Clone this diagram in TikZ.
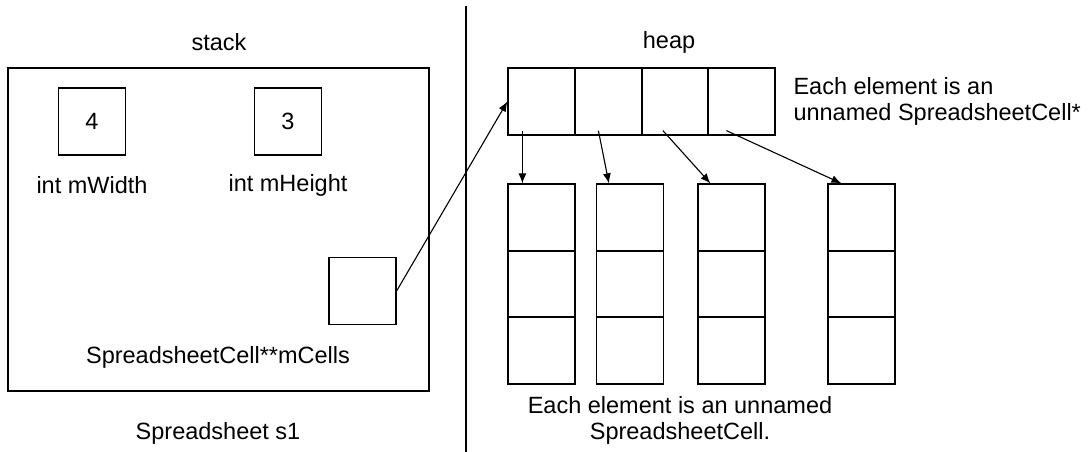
\documentclass[tikz,border=0pt]{standalone}
\usepackage{fontspec}
\setmainfont{Liberation Sans}
\usetikzlibrary{arrows.meta,calc}

\tikzset{
  cell/.style={draw,line width=1.2pt,minimum width=67pt,minimum height=67pt,inner sep=0pt},
  ptr/.style={-{Latex[length=10pt,width=8pt]},line width=1.1pt},
}

\begin{document}
\begin{tikzpicture}[x=1pt,y=-1pt,font=\fontsize{23.5}{26}\selectfont]
    \useasboundingbox (0,0) rectangle (1092,452);

    % stack side
    \path (219,42) node (stacklbl) {stack};
    \path (218.5,229.5) node [draw,line width=1.2pt,minimum width=421pt,minimum height=323pt,inner sep=0pt] (stack) {};
    \path (92,121.5)  node [cell] (w) {4};
    \path (288,121.5) node [cell] (h) {3};
    \path (92,185)  node (wlbl) {int mWidth};
    \path (288,185) node (hlbl) {int mHeight};
    \path (362.5,291) node [cell] (cells) {};
    \path (218,357) node (cellslbl) {SpreadsheetCell**mCells};
    \path (218,433) node (s1lbl) {Spreadsheet s1};

    \draw [line width=1.2pt] (466,6) -- (466,452);

    % heap side
    \path (669,42) node (heaplbl) {heap};
    \path (541.5,101.5) node [cell] (a1) {};
    \path (608.5,101.5) node [cell] (a2) {};
    \path (675,101.5)   node [cell] (a3) {};
    \path (741.5,101.5) node [cell] (a4) {};
    \path (790,101) node [anchor=west,align=left] (arrlbl)
     {Each element is an\\unnamed SpreadsheetCell*};

    \path (541.5,217.5) node [cell] (c11) {};
    \path (541.5,284)   node [cell] (c12) {};
    \path (541.5,350.5) node [cell] (c13) {};
    \path (630,217.5)   node [cell] (c21) {};
    \path (630,284)     node [cell] (c22) {};
    \path (630,350.5)   node [cell] (c23) {};
    \path (731.5,217.5) node [cell] (c31) {};
    \path (731.5,284)   node [cell] (c32) {};
    \path (731.5,350.5) node [cell] (c33) {};
    \path (861.5,217.5) node [cell] (c41) {};
    \path (861.5,284)   node [cell] (c42) {};
    \path (861.5,350.5) node [cell] (c43) {};
    \path (680,420) node [align=center] (collbl)
     {Each element is an unnamed\\SpreadsheetCell.};

    % pointers
    \coordinate (p1) at ($(a1.south west)+(15,-5)$);
    \coordinate (p2) at ($(a2.south west)+(24,-5)$);
    \coordinate (p3) at ($(a3.south west)+(22,-5)$);
    \coordinate (p4) at ($(a4.south west)+(19,-5)$);
    \coordinate (q1) at ($(c11.north west)+(15,0)$);
    \coordinate (q2) at ($(c21.north west)+(13,0)$);
    \coordinate (q3) at ($(c31.north west)+(13,0)$);
    \coordinate (q4) at ($(c41.north west)+(14,0)$);

    \draw [ptr] (cells.east) -- (a1.west);
    \draw [ptr] (p1) -- (q1);
    \draw [ptr] (p2) -- (q2);
    \draw [ptr] (p3) -- (q3);
    \draw [ptr] (p4) -- (q4);
\end{tikzpicture}
\end{document}
